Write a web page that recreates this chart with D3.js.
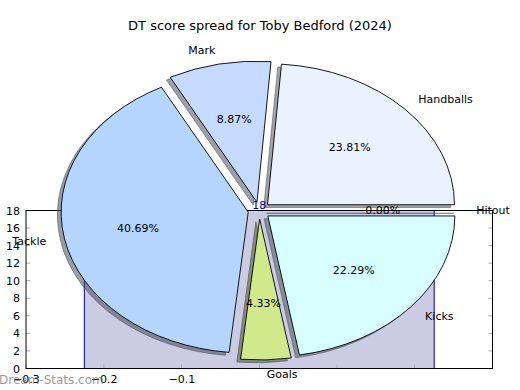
<!DOCTYPE html>
<html>
<head>
<meta charset="utf-8">
<script src="https://cdn.jsdelivr.net/npm/d3@7"></script>
<style>
  body { margin: 0; background: #fff; }
  text { font-family: "DejaVu Sans", sans-serif; }
</style>
</head>
<body>
<div class="chart"></div>
<script>
(function spread() {

  'use strict';

  // pie data, counter-clockwise from 3 o'clock
  var categories = ['Handballs', 'Mark', 'Tackle', 'Goals', 'Kicks', 'Hitout'];
  var shares = [23.81, 8.87, 40.69, 4.33, 22.29, 0.00];
  var colors = ['#eaf2ff', '#c6daff', '#b5d5ff', '#d0e98b', '#d8ffff', '#ffffff'];

  // background bar
  var barX = 0;
  var barWidth = 0.45;
  var barValue = 18;

  var xTicks = [-0.3, -0.2, -0.1];
  var yTicks = [0, 2, 4, 6, 8, 10, 12, 14, 16, 18];

  var title = 'DT score spread for Toby Bedford (2024)';

  var width = 520;
  var height = 390;

  var svg = d3.select('.chart').append('svg')
    .attr('width', width)
    .attr('height', height);

  var x = d3.scaleLinear().domain([-0.3, 0.3]).range([26, 492.5]);
  var y = d3.scaleLinear().domain([0, 18]).range([368.5, 210.5]);

  // bar axes
  var axes = svg.append('g');

  var bx0 = x(barX - barWidth / 2);
  var bx1 = x(barX + barWidth / 2);

  axes.append('rect')
    .attr('x', bx0)
    .attr('y', y(barValue))
    .attr('width', bx1 - bx0)
    .attr('height', y(0) - y(barValue))
    .attr('fill', '#cbcbe4')
    .attr('stroke', '#0000a8')
    .attr('stroke-width', 1);

  var xAxis = d3.axisBottom(x).tickValues(xTicks).tickSize(0).tickPadding(7)
    .tickFormat(d3.format('.1f'));
  var yAxis = d3.axisLeft(y).tickValues(yTicks).tickSize(0).tickPadding(4);

  axes.append('g')
    .attr('transform', 'translate(0,' + y(0) + ')')
    .call(xAxis)
    .call(function (g) { g.select('.domain').remove(); })
    .selectAll('text')
      .attr('font-size', 11)
      .attr('font-family', 'DejaVu Sans')
      .attr('fill', '#000')
      .text(function (d) { return d3.format('.1f')(d).replace('-', '\u2212'); });

  axes.append('g')
    .attr('transform', 'translate(' + (x(-0.3) - 2) + ',0)')
    .call(yAxis)
    .call(function (g) { g.select('.domain').remove(); })
    .selectAll('text')
      .attr('font-size', 11)
      .attr('font-family', 'DejaVu Sans')
      .attr('fill', '#000');

  // small gray tick marks pointing inward
  axes.selectAll('.xt')
    .data(xTicks.concat([0, 0.1, 0.2, 0.3]))
    .enter()
    .append('line')
      .attr('x1', function (d) { return x(d); })
      .attr('x2', function (d) { return x(d); })
      .attr('y1', y(0))
      .attr('y2', y(0) - 4)
      .attr('stroke', '#aaa');

  axes.selectAll('.yt')
    .data(yTicks)
    .enter()
    .append('g')
    .each(function (d) {
      d3.select(this).append('line')
        .attr('x1', x(-0.3)).attr('x2', x(-0.3) + 4)
        .attr('y1', y(d)).attr('y2', y(d))
        .attr('stroke', '#aaa');
      d3.select(this).append('line')
        .attr('x1', x(0.3)).attr('x2', x(0.3) - 4)
        .attr('y1', y(d)).attr('y2', y(d))
        .attr('stroke', '#aaa');
    });

  axes.append('rect')
    .attr('x', x(-0.3))
    .attr('y', y(18))
    .attr('width', x(0.3) - x(-0.3))
    .attr('height', y(0) - y(18))
    .attr('fill', 'none')
    .attr('stroke', '#000')
    .attr('stroke-width', 1);

  // pie, elliptical, every wedge pulled out a little
  var cx = x(0);
  var cy = y(18);
  var rx = 187;
  var ry = 141;
  var explode = 0.06;

  var pie = d3.pie().sort(null).startAngle(0).endAngle(2 * Math.PI);
  var slices = pie(shares).map(function (s, i) {
    // d3 angles here are just fractions of a turn, used as ccw math angles
    var t0 = s.startAngle;
    var t1 = s.endAngle;
    var tm = (t0 + t1) / 2;
    return {
      name: categories[i],
      value: shares[i],
      color: colors[i],
      t0: t0,
      t1: t1,
      tm: tm,
      ox: cx + explode * rx * Math.cos(tm),
      oy: cy - explode * ry * Math.sin(tm)
    };
  });

  var arc = d3.arc()
    .innerRadius(0)
    .outerRadius(1)
    .startAngle(function (d) { return Math.PI / 2 - d.t1; })
    .endAngle(function (d) { return Math.PI / 2 - d.t0; });

  var pieGroup = svg.append('g');

  pieGroup.selectAll('.shadow')
    .data(slices)
    .enter()
    .append('path')
      .attr('class', 'shadow')
      .attr('transform', function (d) {
        return 'translate(' + (d.ox - 0.02 * rx) + ',' + (d.oy + 0.02 * ry) + ') scale(' + rx + ',' + ry + ')';
      })
      .attr('d', arc)
      .attr('fill', function (d) {
        var c = d3.rgb(d.color);
        return d3.rgb(c.r * 0.3, c.g * 0.3, c.b * 0.3);
      })
      .attr('fill-opacity', 0.5)
      .attr('stroke', function (d) {
        var c = d3.rgb(d.color);
        return d3.rgb(c.r * 0.3, c.g * 0.3, c.b * 0.3);
      })
      .attr('stroke-opacity', 0.5)
      .attr('stroke-width', 1)
      .attr('vector-effect', 'non-scaling-stroke');

  pieGroup.selectAll('.wedge')
    .data(slices)
    .enter()
    .append('path')
      .attr('class', 'wedge')
      .attr('transform', function (d) {
        return 'translate(' + d.ox + ',' + d.oy + ') scale(' + rx + ',' + ry + ')';
      })
      .attr('d', arc)
      .attr('fill', function (d) { return d.color; })
      .attr('stroke', '#000')
      .attr('stroke-width', 0.9)
      .attr('vector-effect', 'non-scaling-stroke');

  // category labels
  pieGroup.selectAll('.label')
    .data(slices)
    .enter()
    .append('text')
      .attr('x', function (d) { return d.ox + 1.1 * rx * Math.cos(d.tm); })
      .attr('y', function (d) { return d.oy - 1.1 * ry * Math.sin(d.tm); })
      .attr('dy', '0.35em')
      .attr('text-anchor', function (d) { return Math.cos(d.tm) > 0 ? 'start' : 'end'; })
      .attr('font-size', 11)
      .text(function (d) { return d.name; });

  // percentages
  pieGroup.selectAll('.pct')
    .data(slices)
    .enter()
    .append('text')
      .attr('x', function (d) { return d.ox + 0.6 * rx * Math.cos(d.tm); })
      .attr('y', function (d) { return d.oy - 0.6 * ry * Math.sin(d.tm); })
      .attr('dy', '0.35em')
      .attr('text-anchor', 'middle')
      .attr('font-size', 11)
      .text(function (d) { return d.value.toFixed(2) + '%'; });

  // bar value
  svg.append('text')
    .attr('x', x(barX))
    .attr('y', y(barValue) - 1.5)
    .attr('text-anchor', 'middle')
    .attr('font-size', 11)
    .attr('fill', '#0000a8')
    .text(barValue);

  svg.append('text')
    .attr('x', width / 2)
    .attr('y', 30)
    .attr('text-anchor', 'middle')
    .attr('font-size', 13)
    .text(title);

  svg.append('text')
    .attr('x', -1)
    .attr('y', 384)
    .attr('font-size', 12)
    .attr('fill', '#777')
    .attr('fill-opacity', 0.75)
    .text('Dream-Stats.com');
})();
</script>
</body>
</html>
